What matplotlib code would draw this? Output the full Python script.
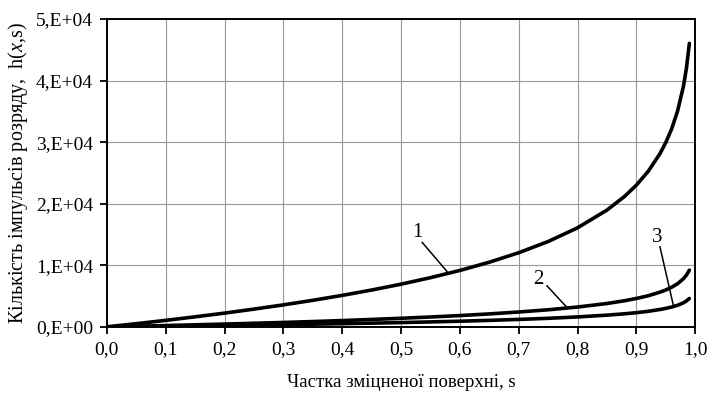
import matplotlib
matplotlib.use("Agg")
import matplotlib.pyplot as plt

plt.rcParams['font.family'] = ['Liberation Serif', 'DejaVu Serif']
plt.rcParams['mathtext.fontset'] = 'custom'
plt.rcParams['mathtext.rm'] = 'Liberation Serif'
plt.rcParams['mathtext.it'] = 'Liberation Serif:italic'

# values
s = [0, 0.05, 0.1, 0.15, 0.2, 0.25, 0.3, 0.35, 0.4, 0.45, 0.5, 0.55, 0.6, 0.65,
     0.7, 0.75, 0.8, 0.85, 0.88, 0.9, 0.92, 0.94, 0.95, 0.96, 0.97, 0.98, 0.985, 0.99]
h1 = [0, 510, 1050, 1630, 2230, 2880, 3570, 4310, 5110, 5980, 6930, 7990, 9160, 10500,
      12040, 13860, 16090, 18970, 21200, 23030, 25260, 28130, 29960, 32190, 35070, 39120, 42000, 46050]
h2 = [0, 100, 210, 330, 450, 580, 710, 860, 1020, 1200, 1390, 1600, 1830, 2100,
      2410, 2770, 3220, 3790, 4240, 4610, 5050, 5630, 5990, 6440, 7010, 7820, 8400, 9210]
h3 = [0, 50, 105, 165, 225, 290, 355, 430, 510, 600, 695, 800, 915, 1050,
      1205, 1385, 1610, 1900, 2120, 2300, 2525, 2815, 3000, 3220, 3505, 3910, 4200, 4605]

xticks = [0, 0.1, 0.2, 0.3, 0.4, 0.5, 0.6, 0.7, 0.8, 0.9, 1.0]
xtick_labels = ['0,0', '0,1', '0,2', '0,3', '0,4', '0,5', '0,6', '0,7', '0,8', '0,9', '1,0']
yticks = [0, 10000, 20000, 30000, 40000, 50000]
ytick_labels = ['0,E+00', '1,E+04', '2,E+04', '3,E+04', '4,E+04', '5,E+04']

fig = plt.figure(figsize=(7.08, 4.05), dpi=100)
ax = fig.add_axes([0.151, 0.193, 0.831, 0.760])

for h in (h1, h2, h3):
    ax.plot(s, h, color='black', lw=2.6, solid_capstyle='round')

# curve labels with leader lines
labels = [('1', (0.527, 15260), (0.536, 13700), (0.578, 9000)),
          ('2', (0.733, 7630), (0.748, 6650), (0.781, 3250)),
          ('3', (0.935, 14450), (0.94, 13000), (0.963, 3400))]
for txt, pos, p0, p1 in labels:
    ax.text(pos[0], pos[1], txt, fontsize=15, ha='center', va='center')
    ax.plot([p0[0], p1[0]], [p0[1], p1[1]], color='black', lw=1.1)

ax.set_xlim(0, 1.0)
ax.set_ylim(0, 50000)
ax.set_xticks(xticks)
ax.set_xticklabels(xtick_labels)
ax.set_yticks(yticks)
ax.set_yticklabels(ytick_labels)
ax.tick_params(direction='out', length=5, width=1.3, labelsize=14, pad=5)
ax.grid(True, color='#999999', lw=0.8)
ax.set_axisbelow(True)
for sp in ax.spines.values():
    sp.set_linewidth(1.4)

ax.set_xlabel('Частка зміцненої поверхні, s', fontsize=13.5, labelpad=12)
ax.set_ylabel('Кількість імпульсів розряду,  h($\\mathit{x}$,s)', fontsize=14.5, labelpad=4)

fig.savefig('out.png', dpi=100)
